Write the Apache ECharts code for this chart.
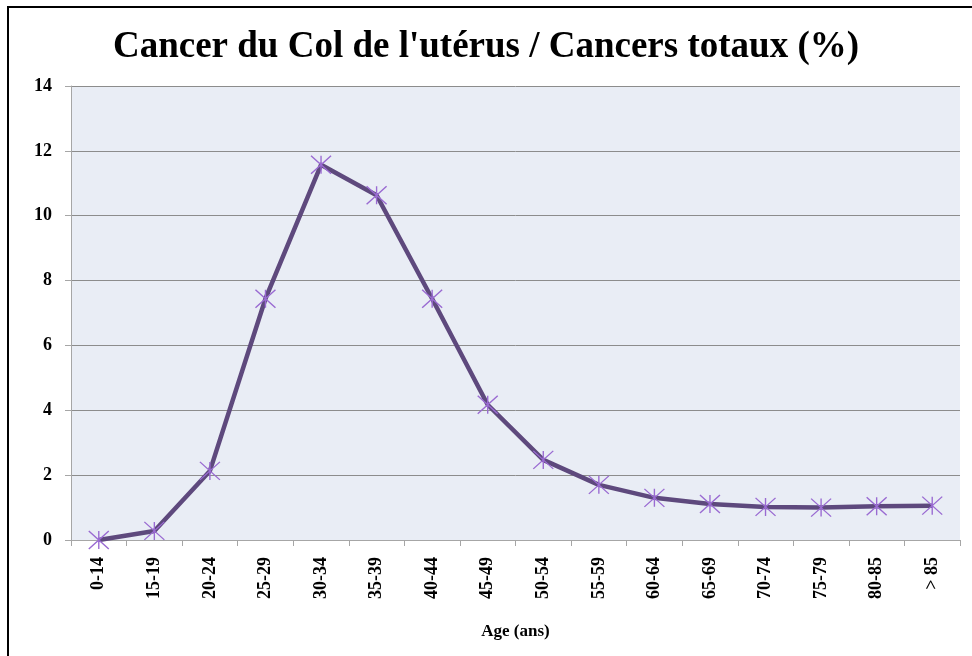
<!DOCTYPE html>
<html>
<head>
<meta charset="utf-8">
<script src="https://cdn.jsdelivr.net/npm/echarts@6/dist/echarts.min.js"></script>
<style>
  html, body { margin: 0; padding: 0; background: #fff; }
  #frame {
    position: absolute; left: 7px; top: 6px; right: -10px; bottom: -10px;
    border-left: 2px solid #000; border-top: 2px solid #000;
  }
  #chart { position: absolute; left: 0; top: 0; width: 972px; height: 656px; }
</style>
</head>
<body>
<div id="frame"></div>
<div id="chart"></div>
<script>
// tranches d'age et pourcentages
const ageGroups = ["0-14", "15-19", "20-24", "25-29", "30-34", "35-39", "40-44", "45-49",
  "50-54", "55-59", "60-64", "65-69", "70-74", "75-79", "80-85", "> 85"];
const cervixShare = [0, 0.28, 2.13, 7.44, 11.57, 10.63, 7.44, 4.17,
  2.47, 1.7, 1.3, 1.11, 1.02, 1.0, 1.04, 1.06];

const serif = "'Liberation Serif', 'Times New Roman', serif";

let myChart = echarts.init(document.getElementById("chart"));

let option = {
  animation: false,
  title: {
    text: "Cancer du Col de l'utérus / Cancers totaux (%)",
    left: "center",
    top: 24,
    textStyle: { fontFamily: serif, fontSize: 37, fontWeight: "bold", color: "#000" }
  },
  grid: {
    left: 71, right: 12, top: 86, bottom: 116,
    show: true, backgroundColor: "#E9EDF5", borderWidth: 0
  },
  xAxis: {
    type: "category",
    data: ageGroups,
    boundaryGap: true,
    name: "Age (ans)",
    nameLocation: "middle",
    nameGap: 83,
    nameTextStyle: { fontFamily: serif, fontSize: 17, fontWeight: "bold", color: "#000" },
    axisLine: { lineStyle: { color: "#A6A6A6", width: 1 } },
    axisTick: { show: true, length: 6, lineStyle: { color: "#A6A6A6" } },
    axisLabel: {
      rotate: 90, margin: 17, interval: 0,
      fontFamily: serif, fontSize: 18, fontWeight: "bold", color: "#000"
    },
    splitLine: { show: false }
  },
  yAxis: {
    type: "value",
    min: 0, max: 14, interval: 2,
    axisLine: { show: true, lineStyle: { color: "#A6A6A6", width: 1 } },
    axisTick: { show: true, length: 6, lineStyle: { color: "#A6A6A6" } },
    axisLabel: { margin: 19, fontFamily: serif, fontSize: 18, fontWeight: "bold", color: "#000" },
    splitLine: { lineStyle: { color: "#8C8C8C", width: 1 } }
  },
  series: [{
    type: "line",
    data: cervixShare,
    smooth: false,
    lineStyle: { color: "#5E497D", width: 4.5, join: "round" },
    symbol: "path://M0,0L20,18M20,0L0,18M10,0L10,18",
    symbolSize: [20, 18],
    showAllSymbol: true,
    itemStyle: { color: "rgba(0,0,0,0)", borderColor: "#9A6BD2", borderWidth: 1.3 },
    z: 3
  }]
};
myChart.setOption(option);
</script>
</body>
</html>
